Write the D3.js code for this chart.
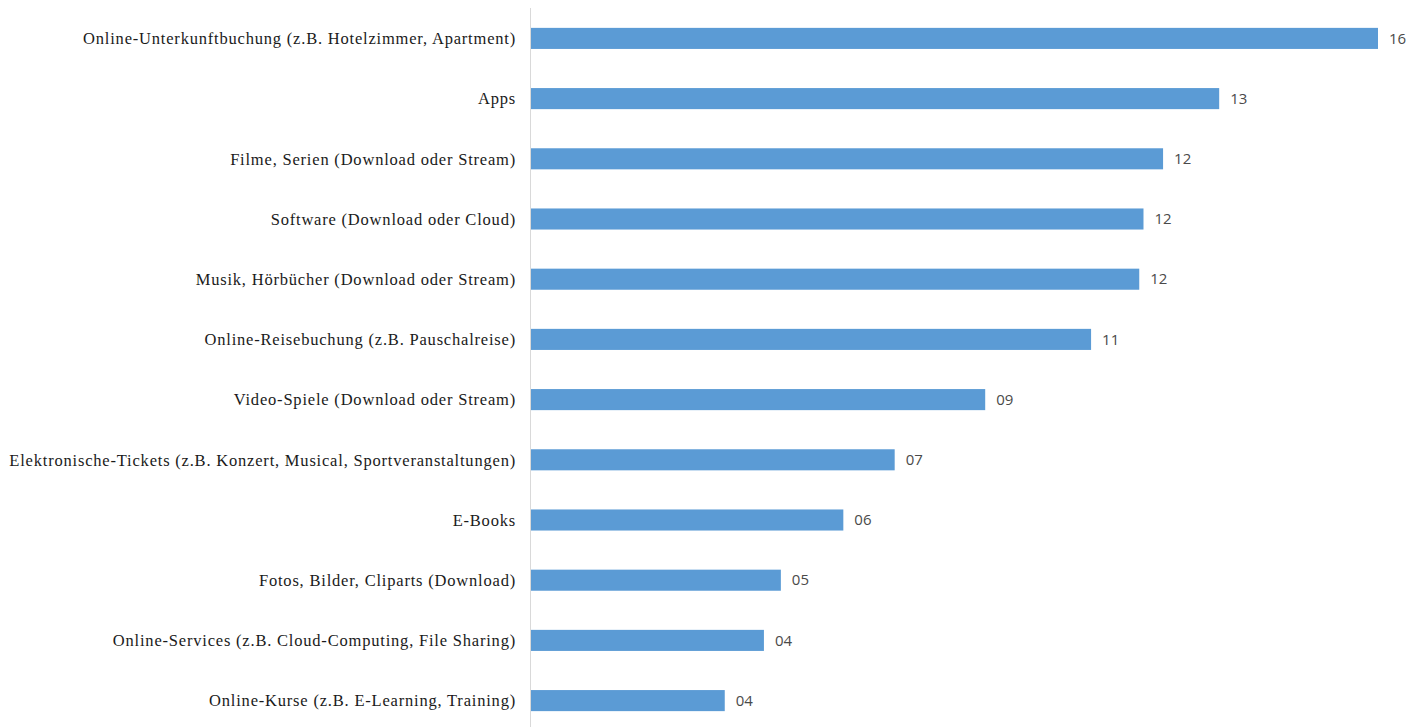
<!DOCTYPE html>
<html>
<head>
<meta charset="utf-8">
<script src="https://cdn.jsdelivr.net/npm/d3@7"></script>
<style>
  html, body { margin: 0; padding: 0; background: #ffffff; }
  svg { display: block; }
</style>
</head>
<body>
<svg id="chart" width="1411" height="727"></svg>
<script>
const categories = [
  "Online-Unterkunftbuchung (z.B. Hotelzimmer, Apartment)",
  "Apps",
  "Filme, Serien (Download oder Stream)",
  "Software (Download oder Cloud)",
  "Musik, Hörbücher (Download oder Stream)",
  "Online-Reisebuchung (z.B. Pauschalreise)",
  "Video-Spiele (Download oder Stream)",
  "Elektronische-Tickets (z.B. Konzert, Musical, Sportveranstaltungen)",
  "E-Books",
  "Fotos, Bilder, Cliparts (Download)",
  "Online-Services (z.B. Cloud-Computing, File Sharing)",
  "Online-Kurse (z.B. E-Learning, Training)"
];
const values = [16.0, 13.0, 11.94, 11.57, 11.49, 10.58, 8.58, 6.87, 5.9, 4.72, 4.4, 3.66];
const valueLabels = ["16", "13", "12", "12", "12", "11", "09", "07", "06", "05", "04", "04"];

const svg = d3.select("#chart");
const axisX = 531;
const x = d3.scaleLinear().domain([0, 16]).range([axisX, 1378]);
const y = d3.scaleBand().domain(categories).range([8, 731]).paddingInner(0.65).paddingOuter(0.33);

// axis line
svg.append("line")
  .attr("x1", axisX - 0.5).attr("x2", axisX - 0.5)
  .attr("y1", 8).attr("y2", 727)
  .attr("stroke", "#d9d9d9").attr("stroke-width", 1);

// bars
svg.selectAll("rect.bar").data(values).enter().append("rect")
  .attr("class", "bar")
  .attr("x", axisX)
  .attr("y", (d, i) => y(categories[i]))
  .attr("width", d => x(d) - axisX)
  .attr("height", y.bandwidth())
  .attr("fill", "#5b9bd5");

// category labels
svg.selectAll("text.cat").data(categories).enter().append("text")
  .attr("class", "cat")
  .attr("x", axisX - 15)
  .attr("y", d => y(d) + y.bandwidth() / 2)
  .attr("dy", "0.35em")
  .attr("text-anchor", "end")
  .attr("font-family", "'Liberation Serif', 'Times New Roman', serif")
  .attr("font-size", 16.5)
  .attr("letter-spacing", "0.8px")
  .attr("fill", "#1a1a1a")
  .text(d => d);

// value labels
svg.selectAll("text.val").data(values).enter().append("text")
  .attr("class", "val")
  .attr("x", d => x(d) + 11)
  .attr("y", (d, i) => y(categories[i]) + y.bandwidth() / 2)
  .attr("dy", "0.35em")
  .attr("font-family", "'Open Sans', 'Noto Sans', sans-serif")
  .attr("font-size", 15)
  .attr("fill", "#4a4a4a")
  .text((d, i) => valueLabels[i]);
</script>
</body>
</html>
